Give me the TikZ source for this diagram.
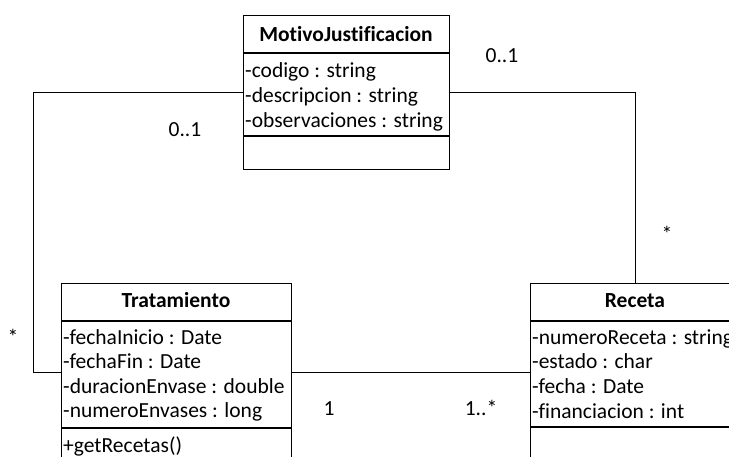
\documentclass[tikz,border=0pt]{standalone}
\usepackage{fontspec}
\setmainfont[Ligatures=NoCommon]{Carlito}
\usetikzlibrary{calc}
\tikzset{
  classbox/.style={draw, line width=1.3pt, inner sep=0pt, anchor=north west},
  sepline/.style={line width=1.3pt},
  attr/.style={anchor=base west, inner sep=0pt, font=\fontsize{21.5}{25}\selectfont},
  ttl/.style={anchor=base, inner sep=0pt, font=\fontsize{21.5}{25}\selectfont\bfseries},
  mult/.style={anchor=base, inner sep=0pt, font=\fontsize{21.5}{25}\selectfont},
  conn/.style={line width=1pt}
}
\begin{document}
\begin{tikzpicture}[x=1pt,y=-1pt]
\useasboundingbox (0,0) rectangle (729,456);
\clip (0,0) rectangle (729,456);
\fill[white] (0,0) rectangle (729,456);

% MotivoJustificacion
\node[classbox, minimum width=206pt, minimum height=154pt] (mj) at (243,15) {};
\draw[sepline] ($(mj.north west)+(0,38)$) -- ($(mj.north east)+(0,38)$);
\draw[sepline] ($(mj.north west)+(0,121)$) -- ($(mj.north east)+(0,121)$);
\node[ttl] (mjt) at (346,41) {MotivoJustificacion};
\node[attr] (mja1) at (245,77) {-codigo : string};
\node[attr] (mja2) at (245,102) {-descripcion : string};
\node[attr] (mja3) at (245,127) {-observaciones : string};

% Tratamiento
\node[classbox, minimum width=230pt, minimum height=187pt] (trat) at (61,283) {};
\draw[sepline] ($(trat.north west)+(0,38)$) -- ($(trat.north east)+(0,38)$);
\draw[sepline] ($(trat.north west)+(0,145)$) -- ($(trat.north east)+(0,145)$);
\node[ttl] (tratt) at (176,307) {Tratamiento};
\node[attr] (tra1) at (63,344) {-fechaInicio : Date};
\node[attr] (tra2) at (63,368.5) {-fechaFin : Date};
\node[attr] (tra3) at (63,393) {-duracionEnvase : double};
\node[attr] (tra4) at (63,417.5) {-numeroEnvases : long};
\node[attr] (trm1) at (63,452) {+getRecetas()};

% Receta
\node[classbox, minimum width=210pt, minimum height=187pt] (rec) at (530,283) {};
\draw[sepline] ($(rec.north west)+(0,38)$) -- ($(rec.north east)+(0,38)$);
\draw[sepline] ($(rec.north west)+(0,144)$) -- ($(rec.north east)+(0,144)$);
\node[ttl] (rect) at (635,307) {Receta};
\node[attr] (rea1) at (532,344) {-numeroReceta : string};
\node[attr] (rea2) at (532,368.5) {-estado : char};
\node[attr] (rea3) at (532,393) {-fecha : Date};
\node[attr] (rea4) at (532,418) {-financiacion : int};

% connectors
\coordinate (mjL) at ($(mj.north west)+(0,77)$);
\coordinate (mjR) at ($(mj.north east)+(0,77)$);
\coordinate (lx) at (33,0);
\coordinate (tratL) at ($(trat.north west)+(0,89)$);
\coordinate (tratR) at ($(trat.north east)+(0,89)$);
\coordinate (recT) at ($(rec.north west)+(105,0)$);
\coordinate (recL) at ($(rec.north west)+(0,89)$);

\draw[conn] (mjL) -- (mjL -| lx) |- (tratL);
\draw[conn] (mjR) -| (recT);
\draw[conn] (tratR) -- (recL);

% multiplicities
\node[mult] (m1) at (185,136) {0..1};
\node[mult] (m2) at (13,344) {*};
\node[mult] (m3) at (502,62) {0..1};
\node[mult] (m4) at (667,241) {*};
\node[mult] (m5) at (329,415) {1};
\node[mult] (m6) at (481,415) {1..*};
\end{tikzpicture}
\end{document}
